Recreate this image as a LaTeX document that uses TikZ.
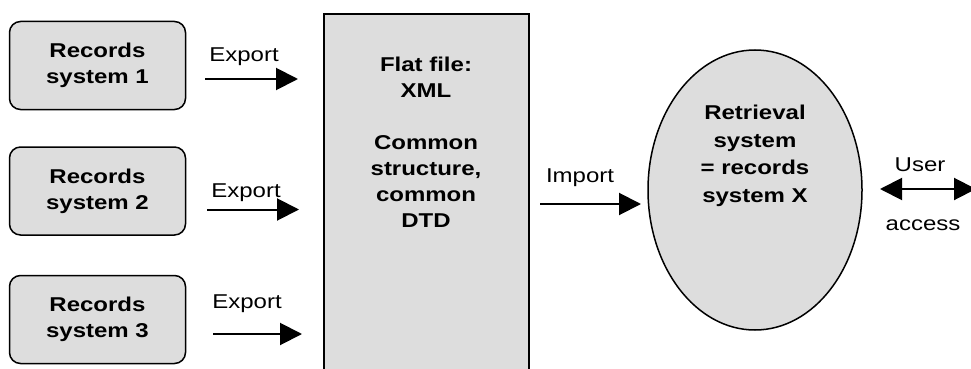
\documentclass[tikz,border=0pt]{standalone}
\usepackage{fontspec}
\setmainfont{Liberation Sans}[FakeStretch=1.2]
\usetikzlibrary{arrows.meta,shapes.geometric}
\definecolor{boxgray}{RGB}{221,221,221}
\tikzset{
  txt/.style = {font=\fontsize{20}{27}\selectfont, align=center, inner sep=0pt},
  recbox/.style = {draw, line width=1.5pt, fill=boxgray, rounded corners=11pt,
    minimum width=176pt, minimum height=88pt, txt, font=\fontsize{20}{26}\selectfont\bfseries},
  flow/.style = {line width=2pt, -{Triangle[length=22pt,width=22pt]}},
  twoway/.style = {line width=2pt, {Triangle[length=22pt,width=22pt]}-{Triangle[length=22pt,width=22pt]}}
}
\begin{document}
\begin{tikzpicture}[x=1pt, y=-1pt]
\clip (0,0) rectangle (971,369);
\fill[white] (0,0) rectangle (971,369);
% records systems
\node[recbox] (rec1) at (97.5,65.5) {Records\\system 1};
\node[recbox] (rec2) at (97.5,191) {Records\\system 2};
\node[recbox] (rec3) at (97.5,319.5) {Records\\system 3};
% flat file
\node[draw, line width=2pt, fill=boxgray, minimum width=205pt, minimum height=400pt,
  anchor=north] (flat) at (426.5,13) {};
\node[txt, font=\fontsize{20}{26}\selectfont\bfseries, anchor=north] (flattext) at (426,57)
  {Flat file:\\XML\\[26pt]Common\\structure,\\common\\DTD};
% retrieval system
\node[draw, line width=1.5pt, fill=boxgray, ellipse, minimum width=214pt,
  minimum height=280pt] (ret) at (755,190) {};
\node[txt, font=\fontsize{20}{27.5}\selectfont\bfseries] (rettext) at (755,156)
  {Retrieval\\system\\= records\\system X};
% arrows
\coordinate (e1a) at (205,79);   \coordinate (e1b) at (298,79);
\coordinate (e2a) at (207,209.5); \coordinate (e2b) at (299,209.5);
\coordinate (e3a) at (213,334);  \coordinate (e3b) at (302,334);
\coordinate (ima) at (540,204);  \coordinate (imb) at (641,204);
\coordinate (usa) at (880,189);  \coordinate (usb) at (976,189);
\draw[flow] (e1a) -- (e1b);
\draw[flow] (e2a) -- (e2b);
\draw[flow] (e3a) -- (e3b);
\draw[flow] (ima) -- (imb);
\draw[twoway] (usa) -- (usb);
% labels
\node[txt, anchor=base] (ex1) at (244,62) {Export};
\node[txt, anchor=base] (ex2) at (246,197) {Export};
\node[txt, anchor=base] (ex3) at (247,308) {Export};
\node[txt, anchor=base] (imp) at (580,182) {Import};
\node[txt, anchor=base] (usr) at (920,171.5) {User};
\node[txt, anchor=base] (acc) at (923,230) {access};
\end{tikzpicture}
\end{document}
